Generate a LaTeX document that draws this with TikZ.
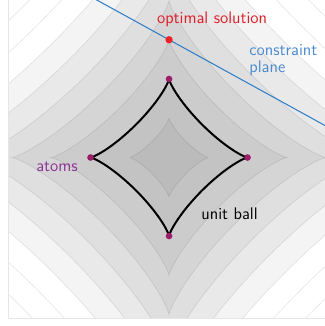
\documentclass[tikz,border=0pt]{standalone}
\usepackage{xcolor}
\usetikzlibrary{positioning}
\definecolor{atomcol}{RGB}{155,30,105}
\definecolor{atomtext}{RGB}{140,50,145}
\definecolor{optcol}{RGB}{238,32,38}
\definecolor{opttext}{RGB}{222,30,40}
\definecolor{planecol}{RGB}{40,122,200}
\definecolor{planetext}{RGB}{75,138,208}

\begin{document}
\begin{tikzpicture}[
    x=58.875pt, y=58.875pt,
    declare function={
        px(\t)=cos(\t)*abs(cos(\t))*sqrt(abs(cos(\t)));
        py(\t)=sin(\t)*abs(sin(\t))*sqrt(abs(sin(\t)));
    },
    band/.style={
        fill=black,
        fill opacity=0.045
    },
    contour/.style={
        draw=black,
        draw opacity=0.1,
        line width=0.45pt
    },
    unitball/.style={
        draw=black,
        line width=1.5pt,
        line join=round
    },
    atom/.style={
        circle,
        fill=atomcol,
        inner sep=0pt,
        minimum size=5pt
    },
    optimum/.style={
        circle,
        fill=optcol,
        inner sep=0pt,
        minimum size=5.5pt
    },
    tag/.style={
        font=\fontsize{12.6}{12.5}\selectfont\sffamily,
        inner sep=0pt,
        align=left
    }
]

\useasboundingbox (-2.153,-2.146) rectangle (1.975,2.006);

% Niveles de la cuasi-norma
\begin{scope}
    \clip (-2.05,-2.05) rectangle (2.05,2.05);
    \foreach \r in {3.5,3.0,...,0.5}
        \fill[band] plot[domain=0:360, samples=241] ({\r*px(\x)},{\r*py(\x)}) -- cycle;
    \foreach \r in {0.5,1.5,2.0,...,6.0}
        \draw[contour] plot[domain=0:360, samples=241] ({\r*px(\x)},{\r*py(\x)}) -- cycle;
    \draw[black!10, line width=0.4pt] (-2.05,-2.05) rectangle (2.05,2.05);

    % Plano de restricciones
    \draw[planecol, line width=0.75pt] (-2.2,2.71) -- (2.2,0.29);
\end{scope}

% Bola unidad
\draw[unitball] plot[domain=0:360, samples=241] ({px(\x)},{py(\x)}) -- cycle;

\node[atom] (top) at (0,1) {};
\node[atom] (left) at (-1,0) {};
\node[atom] (right) at (1,0) {};
\node[atom] (bottom) at (0,-1) {};
\node[optimum] (sol) at (0,1.5) {};

% Etiquetas
\node[tag, text=opttext] (soltext) at (0.548,1.764) {optimal solution};
\node[tag, text=planetext, anchor=west] (planetxt) at (1.02,1.24) {constraint\\plane};
\node[tag, text=atomtext] (atomstext) at (-1.427,-0.121) {atoms};
\node[tag, text=black] (balltext) at (0.771,-0.72) {unit ball};

\end{tikzpicture}
\end{document}
